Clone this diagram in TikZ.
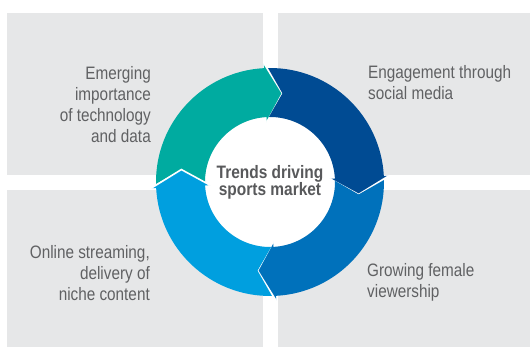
\documentclass[tikz,border=0pt]{standalone}
\usepackage{fontspec}
\setmainfont{Liberation Sans}[FakeStretch=0.85]
\newfontfamily\hubfont{Liberation Sans}[FakeStretch=0.86]
\usepackage{xcolor}
\definecolor{panelgray}{HTML}{E6E7E8}
\definecolor{textgray}{HTML}{606163}
\definecolor{hubgray}{HTML}{58595B}
\definecolor{techteal}{HTML}{00ABA0}
\definecolor{socialblue}{HTML}{004B93}
\definecolor{femaleblue}{HTML}{0071BB}
\definecolor{streamblue}{HTML}{009FDF}
\tikzset{
  panel/.style={fill=panelgray},
  trend/.style={text=textgray, inner sep=0pt, font=\fontsize{18}{21}\selectfont},
  hub/.style={circle, fill=white, text=hubgray, align=center, inner sep=0pt, minimum size=4.57cm, font=\hubfont\bfseries\fontsize{18}{17}\selectfont},
  notch/.style={draw=white, line width=1.6pt}
}
% ring piece: colour, tail angle, head angle
\newcommand{\trendarrow}[3]{%
  \fill[#1] (#2+1:4.007) arc[start angle=#2+1, end angle=#3+3, radius=4.007]
    -- (#3+3:4.183) -- (#3-8:3.146) -- (#3+3:2.109) -- (#3+3:2.285)
    arc[start angle=#3+3, end angle=#2+1, radius=2.285] -- (#2-8:3.146) -- cycle;
  \draw[notch] (#3+3:4.183) -- (#3-8:3.146) -- (#3+3:2.109);
}

\begin{document}
\begin{tikzpicture}
  \useasboundingbox (-9.490,-5.800) rectangle (9.139,6.397);
  % panels
  \fill[panel] (-9.245,0.246) rectangle (-0.246,5.940);
  \fill[panel] (0.281,0.246) rectangle (9.139,5.940);
  \fill[panel] (-9.245,-0.281) rectangle (-0.246,-5.800);
  \fill[panel] (0.281,-0.281) rectangle (9.139,-5.800);
  % centre and ring
  \node[hub] (hub) at (0,0) {Trends driving\\sports market};
  \trendarrow{techteal}{180}{90}
  \trendarrow{socialblue}{90}{0}
  \trendarrow{femaleblue}{0}{-90}
  \trendarrow{streamblue}{-90}{-180}
  % labels
  \node[trend, anchor=east, align=right] (tech) at (-4.183,2.707) {Emerging\\importance\\of technology\\and data};
  \node[trend, anchor=west, align=left] (social) at (3.445,3.480) {Engagement through\\social media};
  \node[trend, anchor=west, align=left] (female) at (3.410,-3.515) {Growing female\\viewership};
  \node[trend, anchor=east, align=right] (stream) at (-4.218,-3.199) {Online streaming,\\delivery of\\niche content};
\end{tikzpicture}
\end{document}
